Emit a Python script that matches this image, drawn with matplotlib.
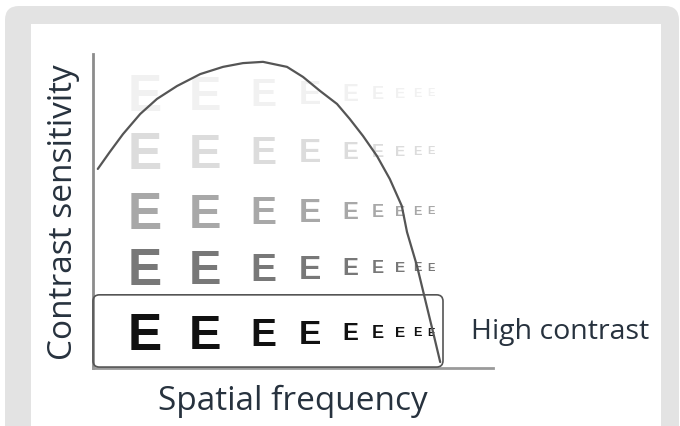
import matplotlib.pyplot as plt
from matplotlib.patches import FancyBboxPatch, Rectangle

# contrast sensitivity curve (arbitrary units 0-100)
curve_x = [1.2, 4.2, 7.5, 11.8, 16, 21, 26.8, 32.5, 37.5, 42.5, 48.5, 52.5, 56.8,
           61, 64.2, 67.5, 71, 74.2, 77.2, 78.5, 81, 83, 85, 86.8]
curve_y = [63.4, 68.8, 74.5, 80.9, 85.7, 89.8, 93.6, 95.9, 97.1, 97.5, 95.9, 92.7, 88.2,
           84.1, 79.3, 73.9, 67.5, 60.2, 51.6, 43.3, 32.5, 22, 11.5, 1.9]

# letter chart: one column per spatial frequency, one row per contrast level
freq_cols = [13, 28, 42.5, 54.2, 64.2, 71.2, 76.8, 81, 84.5]
contrast_rows = [11.8, 32.5, 50.6, 69.7, 88.2]
row_label = 'High contrast'

# styles
letter_px = [37, 35, 28, 24, 17, 13, 11, 9, 8]
row_colors = ['#111111', '#787878', '#a8a8a8', '#dcdcdc', '#f1f1f1']
text_color = '#27323e'
FONT = 'Open Sans'

W, H = 680, 427
fig = plt.figure(figsize=(W / 100, H / 100), dpi=100)
fig.patch.set_facecolor('white')

# grey page frame behind the figure
bg = fig.add_axes([0, 0, 1, 1], zorder=0)
bg.set_xlim(0, W)
bg.set_ylim(H, 0)
bg.axis('off')
bg.add_patch(FancyBboxPatch((5, 7), 674, 440, boxstyle='round,pad=0,rounding_size=14',
                            fc='#e3e3e3', ec='none'))
bg.add_patch(Rectangle((31, 25), 630, 410, fc='white', ec='none'))

# chart area
x0, y0, x1, y1 = 93, 369, 493, 55
ax = fig.add_axes([x0 / W, (H - y0) / H, (x1 - x0) / W, (y0 - y1) / H], zorder=1)
ax.patch.set_alpha(0)
ax.set_xlim(0, 100)
ax.set_ylim(0, 100)
ax.set_xticks([])
ax.set_yticks([])
for s in ['top', 'right']:
    ax.spines[s].set_visible(False)
ax.spines['left'].set_color('#8c8c8c')
ax.spines['bottom'].set_color('#9a9a9a')
ax.spines['left'].set_linewidth(2)
ax.spines['bottom'].set_linewidth(2)

px_y = (y0 - y1) / 100  # pixels per data unit vertically
px_x = (x1 - x0) / 100

for r, (ry, col) in enumerate(zip(contrast_rows, row_colors)):
    for fx, h in zip(freq_cols, letter_px):
        ax.text(fx, ry - h / 2 / px_y, 'E', fontsize=h, fontweight='bold',
                family='Liberation Sans', color=col, ha='center', va='baseline',
                zorder=2)

# box around the high contrast row
hc = contrast_rows[0]
ax.add_patch(FancyBboxPatch((0, hc - 11.5), freq_cols[-1] + 3, 23,
                            boxstyle='round,pad=0,rounding_size=1.6',
                            mutation_aspect=px_x / px_y,
                            fc='none', ec='#555555', lw=1.2, zorder=3, clip_on=False))

ax.plot(curve_x, curve_y, color='#555555', lw=1.6, zorder=4,
        solid_joinstyle='round', solid_capstyle='round')

ax.text(94.5, hc, row_label, fontsize=20.5, family=FONT, color=text_color,
        ha='left', va='center', clip_on=False)
ax.set_xlabel('Spatial frequency', fontsize=24, family=FONT, color=text_color, labelpad=11)
ax.set_ylabel('Contrast sensitivity', fontsize=24, family=FONT, color=text_color, labelpad=9)

fig.savefig('out.png', dpi=100, facecolor='white')
